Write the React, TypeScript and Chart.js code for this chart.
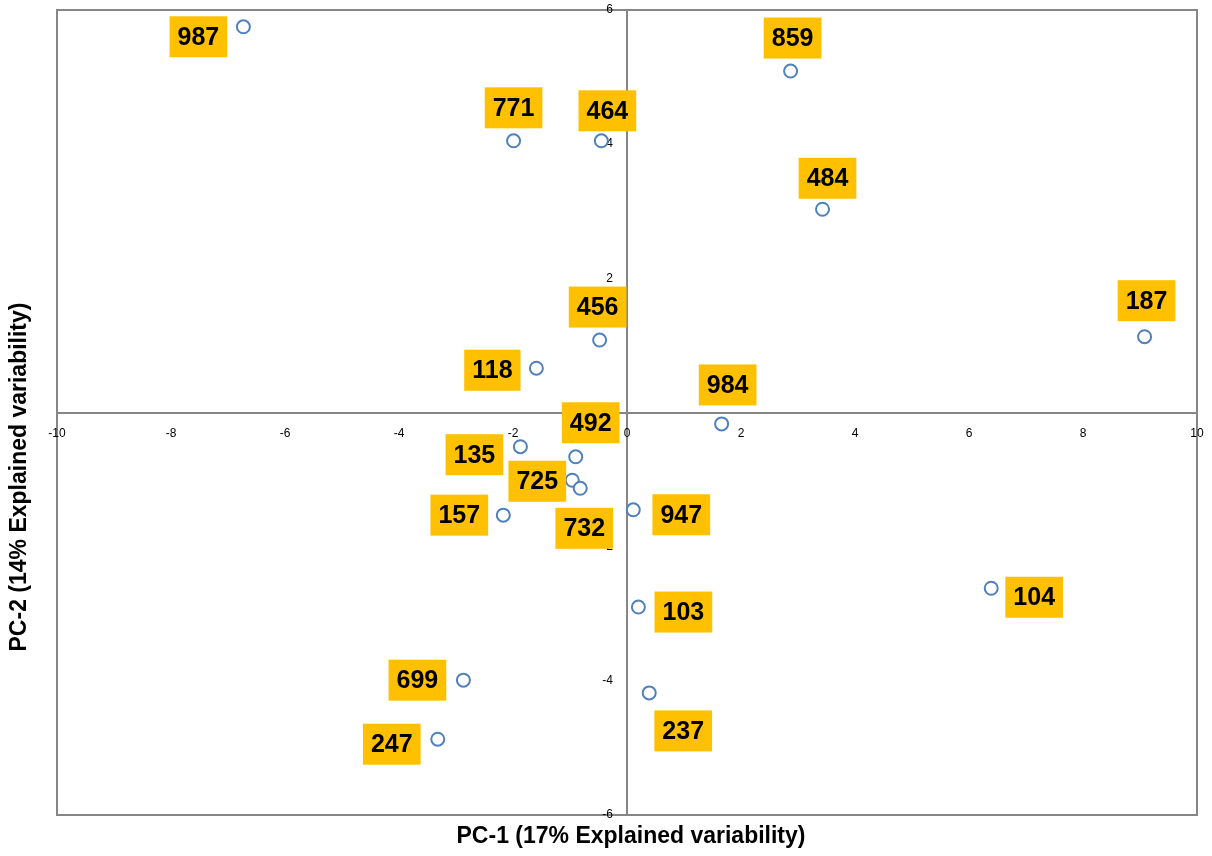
import React, { useEffect, useRef } from "react";
import { Chart, registerables } from "chart.js";

Chart.register(...registerables);

// ---- data ----
const sampleIds = ["987", "859", "771", "464", "484", "187", "456", "118", "984", "492", "135", "725", "732", "157", "947", "103", "104", "699", "237", "247"];
const pc1 = [-6.73, 2.87, -1.99, -0.45, 3.43, 9.08, -0.48, -1.59, 1.66, -0.9, -1.87, -0.96, -0.82, -2.17, 0.11, 0.2, 6.39, -2.87, 0.39, -3.32];
const pc2 = [5.75, 5.09, 4.05, 4.05, 3.03, 1.13, 1.08, 0.66, -0.17, -0.66, -0.51, -1.01, -1.13, -1.53, -1.45, -2.9, -2.62, -3.99, -4.18, -4.87];
const xTickValues = [-10, -8, -6, -4, -2, 0, 2, 4, 6, 8, 10];
const yTickValues = [-6, -4, -2, 0, 2, 4, 6];
const xTitle = "PC-1 (17% Explained variability)";
const yTitle = "PC-2 (14% Explained variability)";

// ---- label placement (pixel nudges from each point, layout only) ----
const labelNudges: [number, number][] = [
  [-45, 10], [2, -33], [0, -33], [6, -30], [5, -31], [2, -36], [-2, -33], [-44, 2], [6, -39], [15, -34],
  [-46, 8], [-35, 1], [4, 40], [-44, 0], [48, 5], [45, 5], [43, 9], [-46, 0], [34, 38], [-46, 5],
];

const AXIS_GRAY = "#868686";

const overlayPlugin = {
  id: "overlay",
  beforeDatasetsDraw(chart: any) {
    const { ctx, chartArea } = chart;
    const xs = chart.scales.x;
    const ys = chart.scales.y;
    ctx.save();
    ctx.strokeStyle = AXIS_GRAY;
    ctx.lineWidth = 2;
    ctx.strokeRect(chartArea.left, chartArea.top, chartArea.right - chartArea.left, chartArea.bottom - chartArea.top);
    // tick labels
    ctx.fillStyle = "#000";
    ctx.font = "12px 'Liberation Sans', Arial, sans-serif";
    const y0 = ys.getPixelForValue(0);
    const x0 = xs.getPixelForValue(0);
    ctx.textAlign = "center";
    ctx.textBaseline = "middle";
    xTickValues.forEach((v) => {
      ctx.fillText(String(v), xs.getPixelForValue(v), y0 + 21);
    });
    ctx.textAlign = "right";
    yTickValues.forEach((v) => {
      ctx.fillText(String(v), x0 - 14, ys.getPixelForValue(v));
    });
    ctx.restore();
  },
  afterDatasetsDraw(chart: any) {
    const { ctx } = chart;
    const meta = chart.getDatasetMeta(0);
    ctx.save();
    ctx.font = "bold 25px 'Liberation Sans', Arial, sans-serif";
    ctx.textAlign = "center";
    ctx.textBaseline = "middle";
    meta.data.forEach((pt: any, i: number) => {
      const [dx, dy] = labelNudges[i];
      const cx = pt.x + dx;
      const cy = pt.y + dy;
      const text = sampleIds[i];
      const w = ctx.measureText(text).width + 16;
      const h = 41;
      ctx.fillStyle = "#FFC000";
      ctx.fillRect(cx - w / 2, cy - h / 2, w, h);
      ctx.fillStyle = "#000";
      ctx.fillText(text, cx, cy + 1);
    });
    ctx.restore();
  },
  afterDraw(chart: any) {
    const { ctx, chartArea } = chart;
    ctx.save();
    ctx.fillStyle = "#000";
    ctx.font = "bold 23px 'Liberation Sans', Arial, sans-serif";
    ctx.textAlign = "center";
    ctx.textBaseline = "middle";
    ctx.fillText(xTitle, (chartArea.left + chartArea.right) / 2 + 4, 837);
    ctx.translate(20, 477);
    ctx.rotate(-Math.PI / 2);
    ctx.fillText(yTitle, 0, 0);
    ctx.restore();
  },
};

export default function App() {
  const canvasRef = useRef<HTMLCanvasElement | null>(null);

  useEffect(() => {
    if (!canvasRef.current) return;
    const points = pc1.map((x, i) => ({ x, y: pc2[i] }));
    const chart = new Chart(canvasRef.current, {
      type: "scatter",
      data: {
        datasets: [
          {
            label: "Samples",
            data: points,
            pointRadius: 6.5,
            pointHoverRadius: 6.5,
            pointBorderWidth: 2,
            pointBackgroundColor: "#FFFFFF",
            pointBorderColor: "#4F81BD",
          },
        ],
      },
      options: {
        animation: false,
        responsive: false,
        devicePixelRatio: 1,
        layout: { padding: { left: 57, top: 10, right: 15, bottom: 41 } },
        plugins: {
          legend: { display: false },
          tooltip: { enabled: false },
          title: { display: false },
        },
        scales: {
          x: {
            type: "linear",
            min: xTickValues[0],
            max: xTickValues[xTickValues.length - 1],
            position: { y: 0 } as any,
            grid: { display: false },
            border: { display: true, color: AXIS_GRAY, width: 2 },
            ticks: { display: false, stepSize: 2 },
          },
          y: {
            type: "linear",
            min: yTickValues[0],
            max: yTickValues[yTickValues.length - 1],
            position: { x: 0 } as any,
            grid: { display: false },
            border: { display: true, color: AXIS_GRAY, width: 2 },
            ticks: { display: false, stepSize: 2 },
          },
        },
      },
      plugins: [overlayPlugin],
    });
    return () => chart.destroy();
  }, []);

  return (
    <div style={{ position: "fixed", left: 0, top: 0, width: 1212, height: 856, background: "#fff" }}>
      <canvas ref={canvasRef} width={1212} height={856} style={{ display: "block" }} />
    </div>
  );
}
